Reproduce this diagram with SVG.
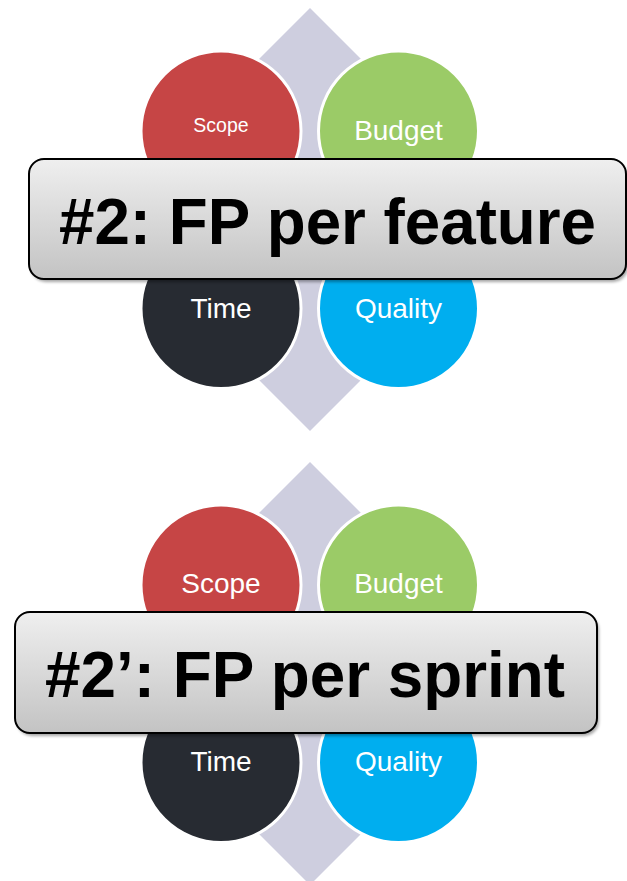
<svg xmlns="http://www.w3.org/2000/svg" width="627" height="881" viewBox="0 0 627 881">
  <style>
    .dia{fill:#cecedf}
    .c{stroke:#ffffff;stroke-width:3}
    .red{fill:#c64545}
    .green{fill:#9bcb67}
    .dark{fill:#272b32}
    .blue{fill:#00aeef}
    .lbl{font-family:"Liberation Sans",Arial,sans-serif;fill:#ffffff;text-anchor:middle}
    .box{fill:url(#gr);stroke:#000000;stroke-width:2}
    .shadow{fill:#000000;opacity:0.35;filter:url(#blur)}
    .title{font-family:"Liberation Sans",Arial,sans-serif;font-weight:bold;font-size:64px;fill:#000000;text-anchor:middle}
  </style>
  <defs>
    <linearGradient id="gr" x1="0" y1="0" x2="0" y2="1">
      <stop offset="0" stop-color="#efefef"/>
      <stop offset="1" stop-color="#c3c3c3"/>
    </linearGradient>
    <filter id="blur" x="-5%" y="-20%" width="110%" height="140%">
      <feGaussianBlur stdDeviation="1.5"/>
    </filter>
  </defs>

  <!-- Top diagram -->
  <g id="diagram1">
    <polygon id="diamond1" class="dia" points="310,8 521.5,219.5 310,431 98.5,219.5"/>
    <g id="scope1"><circle class="c red" cx="221" cy="131" r="80"/><text class="lbl" x="221" y="131.5" font-size="19.5">Scope</text></g>
    <g id="budget1"><circle class="c green" cx="398.5" cy="131" r="80"/><text class="lbl" x="398.5" y="139.5" font-size="28">Budget</text></g>
    <g id="time1"><circle class="c dark" cx="221" cy="308.5" r="80"/><text class="lbl" x="221" y="317.5" font-size="28">Time</text></g>
    <g id="quality1"><circle class="c blue" cx="398.5" cy="308.5" r="80"/><text class="lbl" x="398.5" y="317.5" font-size="28">Quality</text></g>
    <g id="label1">
      <rect class="shadow" x="31" y="162" width="597" height="120" rx="15"/>
      <rect class="box" x="29" y="159" width="597" height="120" rx="15"/>
      <text class="title" x="327.5" y="244" textLength="537" lengthAdjust="spacingAndGlyphs">#2: FP per feature</text>
    </g>
  </g>

  <!-- Bottom diagram -->
  <g id="diagram2">
    <polygon id="diamond2" class="dia" points="310,462 521.5,673.5 310,885 98.5,673.5"/>
    <g id="scope2"><circle class="c red" cx="221" cy="585" r="80"/><text class="lbl" x="221" y="593" font-size="28">Scope</text></g>
    <g id="budget2"><circle class="c green" cx="398.5" cy="585" r="80"/><text class="lbl" x="398.5" y="593" font-size="28">Budget</text></g>
    <g id="time2"><circle class="c dark" cx="221" cy="762.5" r="80"/><text class="lbl" x="221" y="771" font-size="28">Time</text></g>
    <g id="quality2"><circle class="c blue" cx="398.5" cy="762.5" r="80"/><text class="lbl" x="398.5" y="771" font-size="28">Quality</text></g>
    <g id="label2">
      <rect class="shadow" x="17" y="615" width="582" height="121" rx="15"/>
      <rect class="box" x="15" y="612" width="582" height="121" rx="15"/>
      <text class="title" x="305" y="697" textLength="520" lengthAdjust="spacingAndGlyphs">#2’: FP per sprint</text>
    </g>
  </g>

  <g id="connectors"/>
</svg>
